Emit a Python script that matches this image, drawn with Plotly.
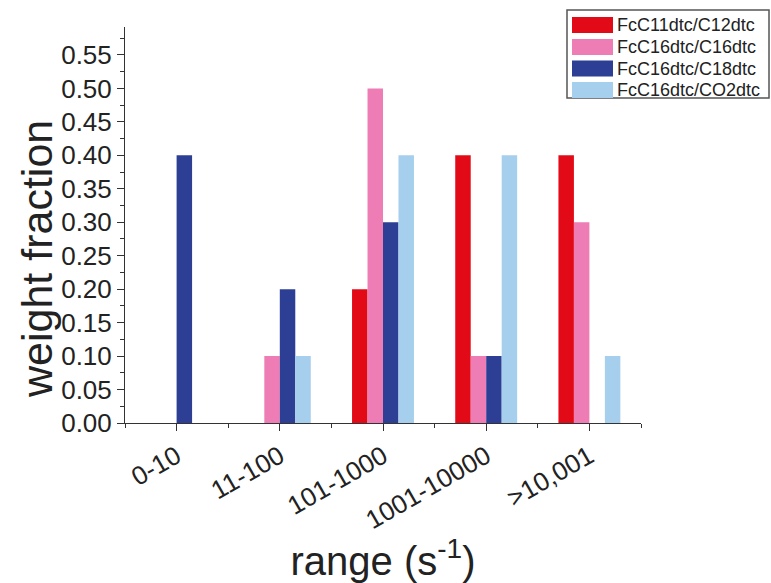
import plotly.graph_objects as go

categories = ["0-10", "11-100", "101-1000", "1001-10000", ">10,001"]
series_names = ["FcC11dtc/C12dtc", "FcC16dtc/C16dtc", "FcC16dtc/C18dtc", "FcC16dtc/CO2dtc"]
red_vals = [0.0, 0.0, 0.2, 0.4, 0.4]
pink_vals = [0.0, 0.1, 0.5, 0.1, 0.3]
navy_vals = [0.4, 0.2, 0.3, 0.1, 0.0]
light_vals = [0.0, 0.1, 0.4, 0.4, 0.1]
colors = ["#E30A17", "#EE7DB5", "#2C3F95", "#A6CFEE"]
y_ticks = [round(0.05 * i, 2) for i in range(12)]

W, H = 771, 583
ML, MR, MT, MB = 125, 130, 27, 160
PW, PH = W - ML - MR, H - MT - MB


def px_x(px):
    return (px - ML) / PW


def px_y(py):
    return (H - MB - py) / PH


xpos = list(range(len(categories)))
fig = go.Figure()
for name, vals, col in zip(series_names, [red_vals, pink_vals, navy_vals, light_vals], colors):
    fig.add_trace(go.Bar(x=xpos, y=vals, name=name, marker=dict(color=col, line=dict(width=0)),
                         showlegend=False))

font_family = "Liberation Sans, Arial, sans-serif"

# legend box drawn as layout decoration
shapes = [dict(type="rect", xref="paper", yref="paper",
               x0=px_x(567), x1=px_x(769), y0=px_y(98), y1=px_y(10),
               line=dict(color="#555555", width=1.5), fillcolor="white", layer="above")]
annotations = []
row_centers = [25, 47, 68.5, 90]
for name, col, cy in zip(series_names, colors, row_centers):
    shapes.append(dict(type="rect", xref="paper", yref="paper",
                       x0=px_x(572), x1=px_x(613), y0=px_y(cy + 8), y1=px_y(cy - 8),
                       line=dict(width=0), fillcolor=col, layer="above"))
    annotations.append(dict(text=name, xref="paper", yref="paper", x=px_x(615), y=px_y(cy),
                            xanchor="left", yanchor="middle", showarrow=False,
                            font=dict(size=18, family=font_family, color="#222222")))

annotations.append(dict(
    text="weight fraction", textangle=-90, xref="paper", yref="paper",
    x=px_x(37), y=px_y(259), xanchor="center", yanchor="middle", showarrow=False,
    font=dict(size=43, family=font_family, color="#222222"),
))

fig.update_layout(
    width=W, height=H,
    margin=dict(l=ML, r=MR, t=MT, b=MB, autoexpand=False),
    plot_bgcolor="white", paper_bgcolor="white",
    barmode="group", bargap=0.4, bargroupgap=0,
    font=dict(family=font_family, color="#222222"),
    showlegend=False,
    xaxis=dict(
        range=[-0.5, 4.5], tickmode="array", tickvals=xpos, ticktext=categories,
        tickangle=-30, tickfont=dict(size=26), ticks="outside", ticklen=7, tickwidth=1,
        tickcolor="#333333", showline=True, linecolor="#333333", linewidth=1,
        showgrid=False, zeroline=False,
        minor=dict(tickmode="array", tickvals=[p + 0.5 for p in [-1] + xpos], ticks="outside",
                   ticklen=4, tickcolor="#333333"),
        title=dict(text="range (s<sup>-1</sup>)", font=dict(size=40), standoff=0),
    ),
    yaxis=dict(
        range=[0, 0.5918], tickmode="array", tickvals=y_ticks,
        ticktext=[f"{v:.2f}" for v in y_ticks], tickfont=dict(size=26),
        ticks="outside", ticklen=7, tickwidth=1, tickcolor="#333333",
        showline=True, linecolor="#333333", linewidth=1, showgrid=False, zeroline=False,
        minor=dict(tickmode="array", tickvals=[0.025 + 0.05 * i for i in range(12)],
                   ticks="outside", ticklen=4, tickcolor="#333333"),
    ),
    shapes=shapes,
    annotations=annotations,
)

fig.write_html("out.html")
